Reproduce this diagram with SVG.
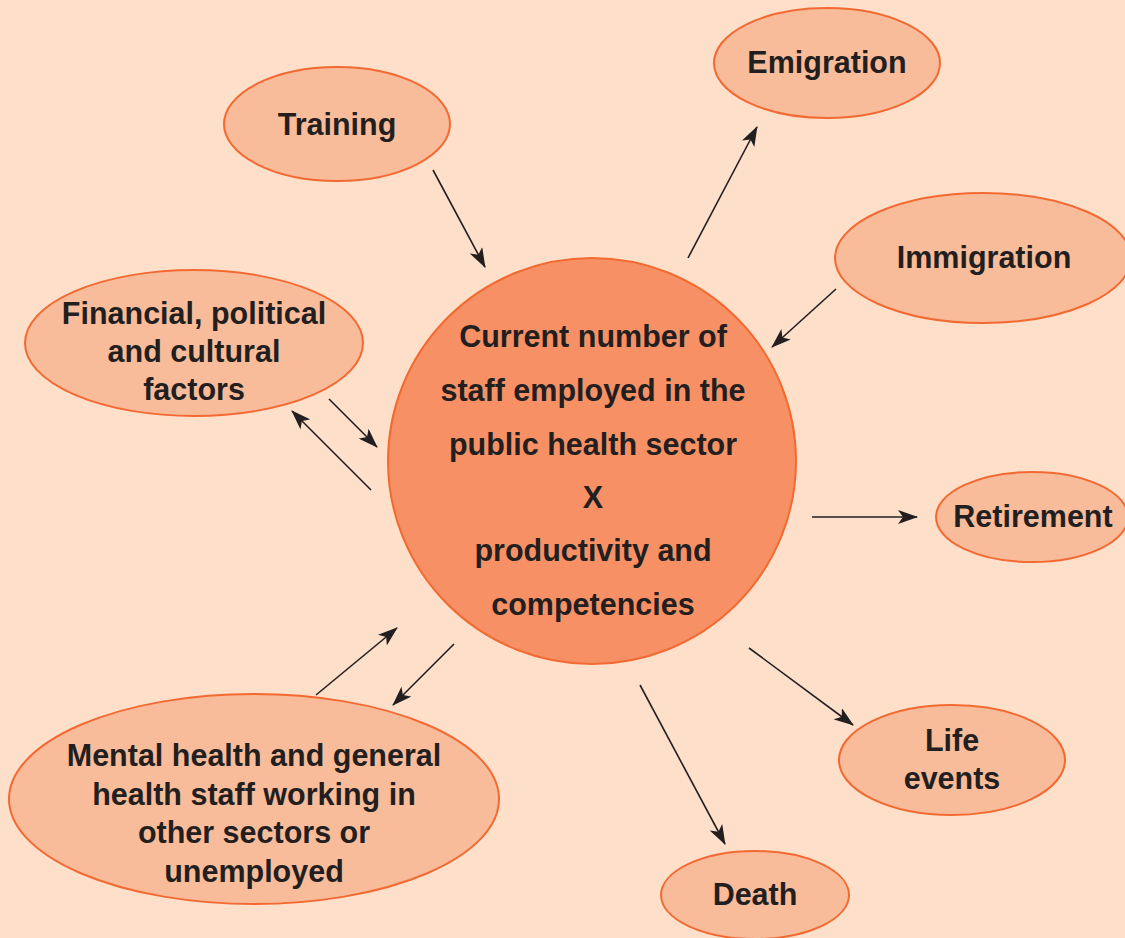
<svg xmlns="http://www.w3.org/2000/svg" width="1125" height="938" viewBox="0 0 1125 938">
<style>
.n{fill:#F9BC9A;stroke:#F26A32;stroke-width:2}
.c{fill:#F79165;stroke:#F26A32;stroke-width:2}
text{font-family:"Liberation Sans",Arial,sans-serif;font-weight:bold;font-size:30.5px;fill:#231F20;text-anchor:middle}
.e line{stroke:#231F20;stroke-width:1.6;marker-end:url(#ah)}
</style>
<defs>
<marker id="ah" viewBox="0 0 20 14" refX="19" refY="7" markerWidth="20" markerHeight="14" markerUnits="userSpaceOnUse" orient="auto">
<path d="M0,0 L20,7 L0,14 L5,7 Z" fill="#231F20"/>
</marker>
</defs>
<rect width="1125" height="938" fill="#FDDFCA"/>
<g id="training"><ellipse class="n" cx="337" cy="124" rx="113" ry="57"/><text x="337" y="135">Training</text></g>
<g id="emigration"><ellipse class="n" cx="827" cy="63" rx="113" ry="55"/><text x="827" y="73">Emigration</text></g>
<g id="immigration"><ellipse class="n" cx="983" cy="258" rx="148" ry="65"/><text x="984" y="268">Immigration</text></g>
<g id="financial"><ellipse class="n" cx="194" cy="343" rx="169" ry="73"/><text x="194" y="324">Financial, political</text><text x="194" y="362">and cultural</text><text x="194" y="400">factors</text></g>
<g id="central"><ellipse class="c" cx="592" cy="461" rx="204" ry="203"/>
<text x="593" y="347">Current number of</text>
<text x="593" y="401">staff employed in the</text>
<text x="593" y="455">public health sector</text>
<text x="593" y="508">X</text>
<text x="593" y="561">productivity and</text>
<text x="593" y="615">competencies</text></g>
<g id="retirement"><ellipse class="n" cx="1032" cy="517" rx="96" ry="45"/><text x="1033" y="527">Retirement</text></g>
<g id="life"><ellipse class="n" cx="952" cy="760" rx="113" ry="55"/><text x="952" y="751">Life</text><text x="952" y="789">events</text></g>
<g id="death"><ellipse class="n" cx="755" cy="895" rx="94" ry="44"/><text x="755" y="905">Death</text></g>
<g id="mental"><ellipse class="n" cx="254" cy="799" rx="245" ry="105"/>
<text x="254" y="766">Mental health and general</text>
<text x="254" y="805">health staff working in</text>
<text x="254" y="843">other sectors or</text>
<text x="254" y="882">unemployed</text></g>
<g id="connectors" class="e">
<line x1="433" y1="170" x2="485" y2="267"/>
<line x1="688" y1="258" x2="757" y2="127"/>
<line x1="836" y1="289" x2="772" y2="347"/>
<line x1="329" y1="399" x2="377" y2="447"/>
<line x1="371" y1="490" x2="292" y2="411"/>
<line x1="812" y1="517" x2="917" y2="517"/>
<line x1="749" y1="648" x2="853" y2="725"/>
<line x1="640" y1="685" x2="725" y2="844"/>
<line x1="316" y1="695" x2="397" y2="628"/>
<line x1="454" y1="644" x2="393" y2="705"/>
</g>
</svg>
